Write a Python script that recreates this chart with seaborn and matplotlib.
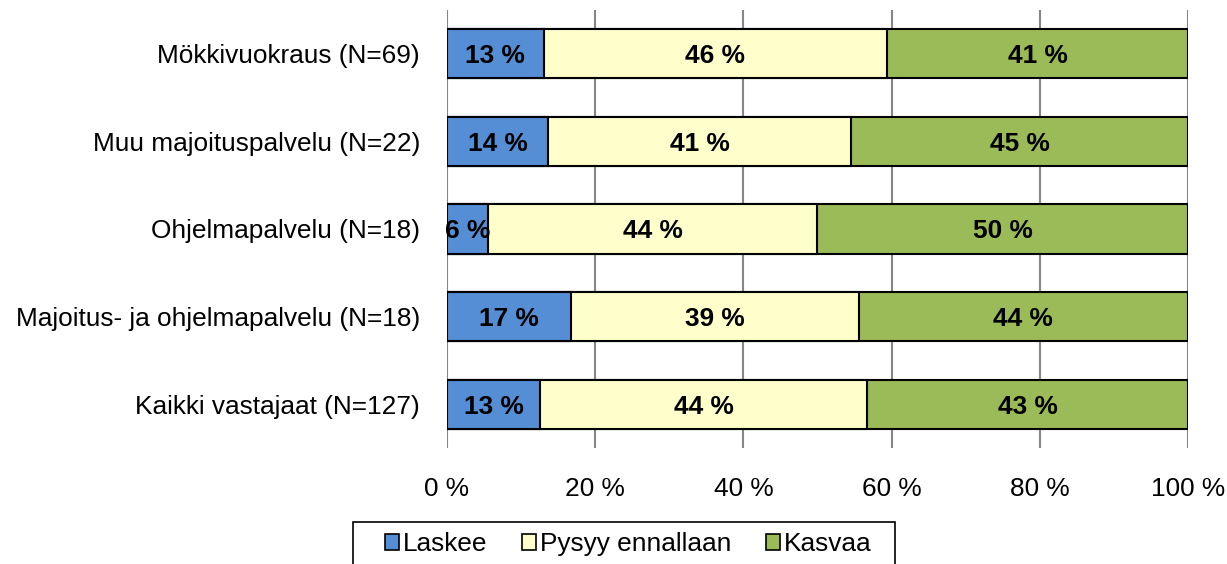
import matplotlib
matplotlib.use("Agg")
import matplotlib.pyplot as plt
import numpy as np
import pandas as pd
import seaborn as sns
from matplotlib.patches import Patch, Rectangle

categories = ["Mökkivuokraus (N=69)", "Muu majoituspalvelu (N=22)", "Ohjelmapalvelu (N=18)",
              "Majoitus- ja ohjelmapalvelu (N=18)", "Kaikki vastajaat (N=127)"]
laskee = [13.04, 13.64, 5.56, 16.67, 12.60]
pysyy = [46.38, 40.91, 44.44, 38.89, 44.09]
kasvaa = [40.58, 45.45, 50.00, 44.44, 43.31]
series_names = ["Laskee", "Pysyy ennallaan", "Kasvaa"]
colors = ["#558ED5", "#FFFFCC", "#9BBB59"]

sns.set_style("white")
plt.rcParams["font.family"] = ["Liberation Sans", "DejaVu Sans"]
plt.rcParams["text.color"] = "black"
plt.rcParams["xtick.color"] = "black"
plt.rcParams["ytick.color"] = "black"

FS = 18.9

df = pd.DataFrame({"cat": categories, "Laskee": laskee, "Pysyy ennallaan": pysyy, "Kasvaa": kasvaa})
df["c1"] = df["Laskee"]
df["c2"] = df["c1"] + df["Pysyy ennallaan"]
df["c3"] = df["c2"] + df["Kasvaa"]

fig = plt.figure(figsize=(12.27, 5.64), dpi=100)
ax = fig.add_axes([0.3643, 0.2057, 0.9682 - 0.3643, 0.9823 - 0.2057])

# draw cumulative layers, widest first
for col, color in zip(["c3", "c2", "c1"], colors[::-1]):
    sns.barplot(data=df, x=col, y="cat", orient="h", color=color, saturation=1,
                edgecolor="black", linewidth=1.5, width=0.56, ax=ax, zorder=3)

# segment labels
starts = [np.zeros(len(df)), df["c1"].values, df["c2"].values]
for name, left in zip(series_names, starts):
    vals = df[name].values
    for i, (l, v) in enumerate(zip(left, vals)):
        ax.text(l + v / 2, i, f"{int(round(v))} %", ha="center", va="center_baseline",
                fontsize=FS, fontweight="bold", color="black", zorder=5)

ax.set_xlim(0, 100)
ax.set_ylim(4.5, -0.5)
ax.set_xticks([0, 20, 40, 60, 80, 100])
ax.set_xticklabels([f"{t} %" for t in [0, 20, 40, 60, 80, 100]])
ax.xaxis.grid(True, color="#868686", linewidth=1.5, zorder=0)
ax.yaxis.grid(False)
ax.set_xlabel("")
ax.set_ylabel("")
for s in ax.spines.values():
    s.set_visible(False)
ax.tick_params(axis="y", length=0, pad=19.5, labelsize=FS)
ax.tick_params(axis="x", length=0, pad=21, labelsize=FS)
ax.set_axisbelow(True)

handles = [Patch(facecolor=c, edgecolor="black", linewidth=1.2) for c in colors]
leg = fig.legend(handles, series_names, loc="upper center", bbox_to_anchor=(0.512, 0.0745),
                 ncol=3, fontsize=FS, frameon=False,
                 handlelength=0.55, handleheight=0.55, handletextpad=0.15, columnspacing=1.3,
                 borderpad=0.4, borderaxespad=0)
# legend box is wider than its contents in the original
fig.patches.append(Rectangle((353 / 1227, -0.01), (895 - 353) / 1227, 0.01 + (564 - 522) / 564,
                             transform=fig.transFigure, fill=False, edgecolor="black",
                             linewidth=1.2))

fig.savefig("out.png", dpi=100)
